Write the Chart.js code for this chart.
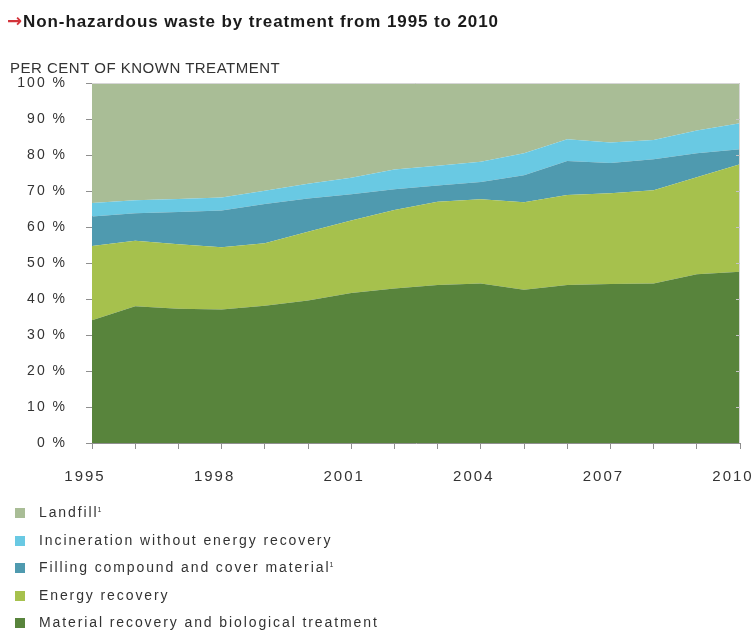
<!DOCTYPE html>
<html>
<head>
<meta charset="utf-8">
<script src="https://cdn.jsdelivr.net/npm/chart.js@4.4.1/dist/chart.umd.min.js"></script>
<style>
  html, body { margin: 0; padding: 0; background: #fff; }
  body { width: 753px; height: 631px; position: relative; overflow: hidden;
         font-family: "Liberation Sans", Arial, Helvetica, sans-serif; color: #333; }
  #wrap { position: absolute; left: 0; top: 0; width: 753px; height: 631px; }
  #title { position: absolute; left: 7px; top: 10px; font-size: 17px; font-weight: bold;
           color: #1a1a1a; letter-spacing: 0.9px; white-space: nowrap; }
  #title .arrow { color: #d3333a; font-family: "DejaVu Sans", sans-serif; font-size: 18px;
                  letter-spacing: 0; margin-right: 1px; }
  #subtitle { position: absolute; left: 10px; top: 59px; font-size: 15px; letter-spacing: 0.5px;
              color: #333; white-space: nowrap; }
  #legend { position: absolute; left: 15px; top: 503px; margin: 0; padding: 0; list-style: none; }
  #legend li { height: 27.5px; line-height: 18px; font-size: 14px; letter-spacing: 1.9px;
               color: #333; white-space: nowrap; position: relative; padding-left: 24px; }
  #legend li span.sw { position: absolute; left: 0; top: 5px; width: 10px; height: 10px; }
  #legend li span.note { font-size: 7px; line-height: 0; position: relative; top: -5px;
                         letter-spacing: 0; margin-left: -1px; }
</style>
</head>
<body>
<div id="wrap"><canvas id="c" width="753" height="631"></canvas></div>
<div id="title"><span class="arrow">→</span>Non-hazardous waste by treatment from 1995 to 2010</div>
<div id="subtitle">PER CENT OF KNOWN TREATMENT</div>
<ul id="legend"></ul>
<script>
// Years on the horizontal axis
const years = ['1995','1996','1997','1998','1999','2000','2001','2002',
               '2003','2004','2005','2006','2007','2008','2009','2010'];

// Share of known treatment, per cent (bottom layer first)
const materialRecovery = [34.1, 38.0, 37.3, 37.1, 38.1, 39.6, 41.7, 42.9, 43.9, 44.3, 42.6, 43.9, 44.2, 44.3, 46.9, 47.6];
const energyRecovery   = [20.6, 18.2, 17.9, 17.3, 17.4, 19.1, 20.1, 21.8, 23.1, 23.4, 24.3, 25.0, 25.2, 25.9, 26.9, 29.8];
const fillingCompound  = [ 8.2,  7.6,  9.0, 10.2, 10.9,  9.2,  7.3,  5.8,  4.5,  4.8,  7.5,  9.4,  8.4,  8.6,  6.7,  4.2];
const incineration     = [ 3.8,  3.6,  3.6,  3.6,  3.7,  4.1,  4.6,  5.5,  5.5,  5.6,  6.1,  6.1,  5.7,  5.4,  6.3,  7.2];
const landfill         = [33.3, 32.6, 32.2, 31.8, 29.9, 28.0, 26.3, 24.0, 23.0, 21.9, 19.5, 15.6, 16.5, 15.8, 13.2, 11.2];

// Axis tick values
const yTicks = [0, 10, 20, 30, 40, 50, 60, 70, 80, 90, 100];
const labelledYears = ['1995', '1998', '2001', '2004', '2007', '2010'];

// Series in stacking order, bottom to top
const series = [
  { label: 'Material recovery and biological treatment', data: materialRecovery, color: '#58843c', note: false },
  { label: 'Energy recovery',                             data: energyRecovery,   color: '#a6c14d', note: false },
  { label: 'Filling compound and cover material',         data: fillingCompound,  color: '#4f9aaf', note: true  },
  { label: 'Incineration without energy recovery',        data: incineration,     color: '#69c9e3', note: false },
  { label: 'Landfill',                                    data: landfill,         color: '#a9bd96', note: true  }
];

// Legend lists the top layer first
const legendEl = document.getElementById('legend');
series.slice().reverse().forEach(s => {
  const li = document.createElement('li');
  const sw = document.createElement('span');
  sw.className = 'sw';
  sw.style.background = s.color;
  li.appendChild(sw);
  li.appendChild(document.createTextNode(s.label));
  if (s.note) {
    const n = document.createElement('span');
    n.className = 'note';
    n.textContent = '1';
    li.appendChild(n);
  }
  legendEl.appendChild(li);
});

const AXIS_GREY = '#8f8f8f';

// Light frame on the top and right edges of the plot, with small inward ticks
const framePlugin = {
  id: 'frame',
  beforeDraw(chart) {
    chart.ctx.letterSpacing = '2px';
  },
  afterDatasetsDraw(chart) {
    const { ctx, chartArea: a, scales } = chart;
    ctx.save();
    ctx.strokeStyle = '#d6d6d6';
    ctx.lineWidth = 1;
    ctx.beginPath();
    ctx.moveTo(a.left, a.top + 0.5);
    ctx.lineTo(a.right - 0.5, a.top + 0.5);
    ctx.lineTo(a.right - 0.5, a.bottom);
    ctx.stroke();
    ctx.strokeStyle = '#c4c4c4';
    ctx.beginPath();
    yTicks.forEach(v => {
      if (v === 0 || v === 100) return;
      const y = Math.round(scales.y.getPixelForValue(v)) + 0.5;
      ctx.moveTo(a.right - 4, y);
      ctx.lineTo(a.right, y);
    });
    ctx.stroke();
    ctx.restore();
  }
};

new Chart(document.getElementById('c'), {
  type: 'line',
  data: {
    labels: years,
    datasets: series.map((s, i) => ({
      label: s.label,
      data: s.data,
      backgroundColor: s.color,
      borderColor: s.color,
      borderWidth: 0,
      pointRadius: 0,
      tension: 0,
      fill: i === 0 ? 'origin' : '-1'
    }))
  },
  options: {
    responsive: false,
    animation: false,
    layout: { padding: { top: 83, right: 13, bottom: 131, left: 0 } },
    plugins: { legend: { display: false }, tooltip: { enabled: false }, title: { display: false } },
    scales: {
      x: {
        offset: false,
        grid: { drawOnChartArea: false, drawTicks: true, tickLength: 6, color: AXIS_GREY },
        border: { display: true, color: AXIS_GREY },
        ticks: {
          autoSkip: false,
          maxRotation: 0,
          padding: 19,
          labelOffset: -7,
          color: '#333',
          font: { family: '"Liberation Sans", Arial, sans-serif', size: 15 },
          callback(val, idx) {
            const lab = years[idx];
            return labelledYears.includes(lab) ? lab : '';
          }
        },
        afterFit(scale) {
          scale.height = 57;
          scale.paddingLeft = 0;
          scale.paddingRight = 0;
        }
      },
      y: {
        stacked: true,
        min: 0,
        max: 100,
        grid: { drawOnChartArea: false, drawTicks: true, tickLength: 6, color: AXIS_GREY },
        border: { display: true, color: AXIS_GREY },
        afterBuildTicks(scale) { scale.ticks = yTicks.map(v => ({ value: v })); },
        ticks: {
          padding: 19,
          color: '#333',
          font: { family: '"Liberation Sans", Arial, sans-serif', size: 14 },
          callback(v) { return v + ' %'; }
        },
        afterFit(scale) {
          scale.width = 92;
          scale.paddingTop = 0;
          scale.paddingBottom = 0;
        }
      }
    }
  },
  plugins: [framePlugin]
});
</script>
</body>
</html>
